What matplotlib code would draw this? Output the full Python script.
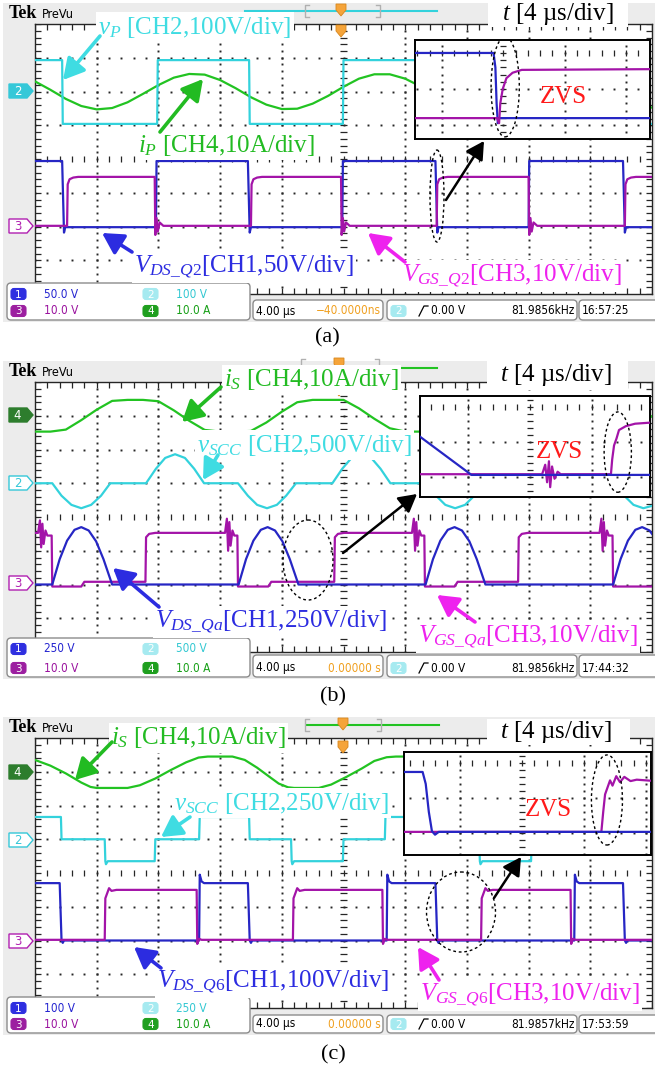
import numpy as np
import matplotlib
matplotlib.use("Agg")
import matplotlib.pyplot as plt
from matplotlib.patches import Polygon, FancyBboxPatch, Rectangle, Ellipse, FancyArrowPatch
from matplotlib.collections import LineCollection

plt.rcParams["mathtext.fontset"] = "custom"
plt.rcParams["mathtext.rm"] = "Liberation Serif"
plt.rcParams["mathtext.it"] = "Liberation Serif:italic"
plt.rcParams["mathtext.bf"] = "Liberation Serif:bold"
plt.rcParams["mathtext.sf"] = "Liberation Serif"

# ===================== DATA (time in div, 4 us/div ; level in div) =====================
T_SAMPLES = [0.0, 0.25, 0.5, 0.75, 1.0, 1.25, 1.5, 1.75, 2.0, 2.25, 2.5, 2.75, 3.0, 3.25,
             3.5, 3.75, 4.0, 4.25, 4.5, 4.75, 5.0, 5.25, 5.5, 5.75, 6.0, 6.25, 6.5, 6.75,
             7.0, 7.25, 7.5, 7.75, 8.0, 8.25, 8.5, 8.75, 9.0, 9.25, 9.5, 9.75, 10.0]

# ---- panel (a) ----
a_vp = [(0, 6.93), (0.44, 6.93), (0.45, 5.04), (1.98, 5.04), (1.99, 6.93), (3.47, 6.93),
        (3.48, 5.04), (4.99, 5.04), (5.00, 6.93), (6.51, 6.93), (6.52, 5.04), (8.03, 5.04),
        (8.04, 6.93), (9.55, 6.93), (9.56, 5.04), (10, 5.04)]
a_ip = [6.30, 6.05, 5.78, 5.57, 5.47, 5.51, 5.68, 5.93, 6.19, 6.41, 6.52, 6.50, 6.34, 6.10,
        5.83, 5.61, 5.48, 5.49, 5.64, 5.87, 6.14, 6.38, 6.51, 6.51, 6.38, 6.15, 5.88, 5.64,
        5.50, 5.48, 5.60, 5.82, 6.09, 6.34, 6.49, 6.52, 6.42, 6.20, 5.94, 5.69, 5.52]
a_vds = [(0, 3.94), (0.44, 3.94), (0.47, 1.82), (0.49, 1.98), (1.96, 1.98), (1.97, 3.94),
         (3.45, 3.94), (3.48, 1.82), (3.50, 1.98), (4.98, 1.98), (4.99, 3.94), (6.49, 3.94),
         (6.52, 1.82), (6.54, 1.98), (8.00, 1.98), (8.01, 3.94), (9.53, 3.94), (9.56, 1.82),
         (9.58, 1.98), (10, 1.98)]
a_vgs = [(0, 2.02), (0.52, 2.02), (0.53, 3.25), (0.56, 3.40), (0.62, 3.45), (0.70, 3.47),
         (1.94, 3.47), (1.95, 1.75), (1.97, 2.25), (1.99, 1.85), (2.02, 2.12), (2.08, 2.02),
         (3.50, 2.02), (3.51, 3.25), (3.54, 3.40), (3.60, 3.45), (3.68, 3.47), (4.96, 3.47),
         (4.97, 1.75), (4.99, 2.25), (5.01, 1.85), (5.04, 2.12), (5.10, 2.02), (6.51, 2.02),
         (6.52, 3.25), (6.55, 3.40), (6.61, 3.45), (6.69, 3.47), (8.00, 3.47), (8.01, 1.75),
         (8.03, 2.25), (8.05, 1.85), (8.08, 2.12), (8.14, 2.02), (9.56, 2.02), (9.57, 3.25),
         (9.60, 3.40), (9.66, 3.45), (9.74, 3.47), (10, 3.47)]
a_zoom_vds = [(0.56, 3.0), (1.84, 3.0), (1.87, 2.6), (1.89, 1.6), (1.91, 1.05), (1.93, 1.19), (4.39, 1.19)]
a_zoom_vgs = [(0.56, 1.19), (1.90, 1.19), (1.93, 1.05), (1.95, 1.6), (1.99, 2.0), (2.05, 2.3),
              (2.15, 2.45), (2.30, 2.53), (4.39, 2.55)]
a_scales = ["50.0 V", "100 V", "10.0 V", "10.0 A"]
a_timebase = ["4.00 \u00b5s", "\u221240.0000ns"]
a_trigger = ["0.00 V", "81.9856kHz"]
a_clock = "16:57:25"

# ---- panel (b) ----
b_is = [6.53, 6.53, 6.59, 6.87, 7.18, 7.44, 7.47, 7.47, 7.43, 7.16, 6.85, 6.58, 6.53, 6.53,
        6.55, 6.80, 7.12, 7.40, 7.47, 7.47, 7.47, 7.22, 6.91, 6.63, 6.53, 6.53, 6.53, 6.75,
        7.05, 7.35, 7.47, 7.47, 7.47, 7.28, 6.98, 6.68, 6.53, 6.53, 6.53, 6.69, 6.99]
b_vscc = [(0, 5.0), (0.28, 5.0), (0.43, 4.63), (0.59, 4.36), (0.75, 4.26), (0.91, 4.36), (1.07, 4.63),
          (1.22, 5.0), (1.80, 5.0), (1.96, 5.43), (2.11, 5.75), (2.27, 5.86), (2.43, 5.75), (2.58, 5.43),
          (2.74, 5.0), (3.29, 5.0), (3.45, 4.63), (3.60, 4.36), (3.76, 4.26), (3.92, 4.36), (4.07, 4.63),
          (4.23, 5.0), (4.82, 5.0), (4.98, 5.43), (5.13, 5.75), (5.29, 5.86), (5.45, 5.75), (5.60, 5.43),
          (5.76, 5.0), (6.34, 5.0), (6.50, 4.63), (6.65, 4.36), (6.81, 4.26), (6.97, 4.36), (7.12, 4.63),
          (7.28, 5.0), (7.87, 5.0), (8.03, 5.43), (8.18, 5.75), (8.34, 5.86), (8.50, 5.75), (8.65, 5.43),
          (8.81, 5.0), (9.39, 5.0), (9.55, 4.63), (9.70, 4.36), (9.86, 4.26), (10, 4.33)]
b_vds = [(0, 2.0), (0.28, 2.0), (0.40, 2.75), (0.52, 3.30), (0.64, 3.62), (0.75, 3.70), (0.87, 3.60),
         (0.99, 3.28), (1.11, 2.75), (1.25, 2.0), (3.30, 2.0), (3.42, 2.75), (3.54, 3.30), (3.66, 3.62),
         (3.77, 3.70), (3.89, 3.60), (4.01, 3.28), (4.13, 2.75), (4.27, 2.0), (6.33, 2.0), (6.45, 2.75),
         (6.57, 3.30), (6.69, 3.62), (6.80, 3.70), (6.92, 3.60), (7.04, 3.28), (7.16, 2.75), (7.30, 2.0),
         (9.37, 2.0), (9.49, 2.75), (9.61, 3.30), (9.73, 3.62), (9.84, 3.70), (9.96, 3.60), (10, 3.50)]
b_vgs = [(0, 3.53), (0.05, 3.53), (0.08, 3.9), (0.10, 3.1), (0.12, 3.8), (0.14, 3.2), (0.17, 3.6),
         (0.20, 3.45), (0.27, 3.45), (0.28, 1.94), (0.75, 1.94), (0.80, 2.08), (1.79, 2.08), (1.80, 3.40),
         (1.85, 3.50), (1.95, 3.53), (3.08, 3.53), (3.11, 3.95), (3.13, 3.0), (3.15, 3.85), (3.17, 3.15),
         (3.20, 3.6), (3.23, 3.45), (3.28, 3.45), (3.29, 1.94), (3.78, 1.94), (3.83, 2.08), (4.85, 2.08),
         (4.86, 3.40), (4.91, 3.50), (5.01, 3.53), (6.11, 3.53), (6.14, 3.95), (6.16, 3.0), (6.18, 3.85),
         (6.20, 3.15), (6.23, 3.6), (6.26, 3.45), (6.31, 3.45), (6.32, 1.94), (6.80, 1.94), (6.85, 2.08),
         (7.83, 2.08), (7.84, 3.40), (7.89, 3.50), (7.99, 3.53), (9.15, 3.53), (9.18, 3.95), (9.20, 3.0),
         (9.22, 3.85), (9.24, 3.15), (9.27, 3.6), (9.30, 3.45), (9.36, 3.45), (9.37, 1.94), (10, 1.94)]
b_zoom_vds = [(0.23, 2.15), (0.26, 2.11), (1.06, 1.06), (3.94, 1.06)]
b_zoom_vgs = [(0.23, 1.08), (2.20, 1.08), (2.25, 1.35), (2.28, 0.85), (2.31, 1.45), (2.33, 0.71),
              (2.36, 1.3), (2.40, 0.95), (2.45, 1.15), (2.50, 1.08), (3.31, 1.08), (3.33, 1.5),
              (3.36, 1.9), (3.40, 2.1), (3.44, 2.34), (3.55, 2.45), (3.70, 2.52), (3.94, 2.55)]
b_scales = ["250 V", "500 V", "10.0 V", "10.0 A"]
b_timebase = ["4.00 \u00b5s", "0.00000 s"]
b_trigger = ["0.00 V", "81.9856kHz"]
b_clock = "17:44:32"

# ---- panel (c) ----
c_is = [(0, 7.35), (0.25, 7.18), (0.5, 6.95), (0.75, 6.68), (0.9, 6.55), (1.0, 6.52), (1.5, 6.52),
        (1.7, 6.60), (1.95, 6.80), (2.2, 7.05), (2.45, 7.28), (2.65, 7.42), (2.8, 7.45), (3.2, 7.45),
        (3.4, 7.35), (3.6, 7.12), (3.8, 6.85), (3.95, 6.65), (4.1, 6.54), (4.2, 6.52), (4.6, 6.52),
        (4.8, 6.62), (5.05, 6.85), (5.3, 7.10), (5.5, 7.32), (5.7, 7.43), (5.85, 7.45), (6.25, 7.45),
        (6.45, 7.35), (6.65, 7.12), (6.85, 6.85), (7.0, 6.65), (7.15, 6.54), (7.25, 6.52), (7.65, 6.52),
        (7.85, 6.62), (8.1, 6.85), (8.35, 7.10), (8.55, 7.32), (8.75, 7.43), (8.9, 7.45), (9.3, 7.45),
        (9.5, 7.35), (9.7, 7.12), (9.9, 6.85), (10, 6.75)]
c_vscc = [(0, 5.66), (0.42, 5.66), (0.43, 5.0), (1.13, 5.0), (1.14, 4.35), (1.15, 4.26), (1.18, 4.35),
          (1.94, 4.35), (1.95, 5.0), (2.66, 5.0), (2.67, 5.66), (2.68, 5.74), (2.71, 5.66), (3.47, 5.66),
          (3.48, 5.0), (4.15, 5.0), (4.16, 4.35), (4.17, 4.26), (4.20, 4.35), (4.99, 4.35), (5.00, 5.0),
          (5.67, 5.0), (5.68, 5.66), (5.69, 5.74), (5.72, 5.66), (6.52, 5.66), (6.53, 5.0), (7.20, 5.0),
          (7.21, 4.35), (7.22, 4.26), (7.25, 4.35), (8.04, 4.35), (8.05, 5.0), (8.72, 5.0), (8.73, 5.66),
          (8.74, 5.74), (8.77, 5.66), (9.57, 5.66), (9.58, 5.0), (10, 5.0)]
c_vds = [(0, 3.70), (0.40, 3.70), (0.43, 2.0), (0.45, 1.93), (0.47, 2.0), (2.66, 2.0), (2.67, 3.95),
         (2.70, 3.75), (2.74, 3.70), (3.45, 3.70), (3.48, 2.0), (3.50, 1.93), (3.52, 2.0), (5.70, 2.0),
         (5.71, 3.95), (5.74, 3.75), (5.78, 3.70), (6.49, 3.70), (6.52, 2.0), (6.54, 1.93), (6.56, 2.0),
         (8.74, 2.0), (8.75, 3.95), (8.78, 3.75), (8.82, 3.70), (9.53, 3.70), (9.56, 2.0), (9.58, 1.93),
         (9.60, 2.0), (10, 2.0)]
c_vgs = [(0, 2.02), (1.13, 2.02), (1.14, 3.25), (1.17, 3.40), (1.20, 3.55), (1.24, 3.47), (1.32, 3.50),
         (2.62, 3.50), (2.63, 1.90), (2.66, 2.05), (2.70, 2.02), (4.18, 2.02), (4.19, 3.25), (4.22, 3.40),
         (4.25, 3.55), (4.29, 3.47), (4.37, 3.50), (5.63, 3.50), (5.64, 1.90), (5.67, 2.05), (5.71, 2.02),
         (7.23, 2.02), (7.24, 3.25), (7.27, 3.40), (7.30, 3.55), (7.34, 3.47), (7.42, 3.50), (8.68, 3.50),
         (8.69, 1.90), (8.72, 2.05), (8.76, 2.02), (10, 2.02)]
c_zoom_vds = [(0.10, 2.74), (0.40, 2.74), (0.45, 2.4), (0.50, 1.6), (0.55, 1.05), (0.60, 0.95),
              (0.66, 1.03), (4.08, 1.03)]
c_zoom_vgs = [(0.10, 1.03), (3.28, 1.03), (3.31, 1.6), (3.34, 2.1), (3.38, 2.3), (3.42, 2.5),
              (3.46, 2.35), (3.52, 2.62), (3.58, 2.45), (3.65, 2.6), (3.75, 2.48), (3.85, 2.52), (4.08, 2.49)]
c_scales = ["100 V", "250 V", "10.0 V", "10.0 A"]
c_timebase = ["4.00 \u00b5s", "0.00000 s"]
c_trigger = ["0.00 V", "81.9857kHz"]
c_clock = "17:53:59"

# ===================== STYLE =====================
TR_CYAN, TR_GREEN, TR_BLUE, TR_MAG = "#33d2dc", "#22c322", "#2626c4", "#a314a8"
LB_CYAN, LB_GREEN, LB_BLUE, LB_MAG = "#3fdce2", "#22bb22", "#2c2ce0", "#ee22ee"
GRID_C = "#262626"
FRAME = "#ececec"
SERIF = "Liberation Serif"

W, H = 655, 1068
fig = plt.figure(figsize=(W / 100, H / 100), dpi=100)
fig.patch.set_facecolor("white")


def px_axes(x0, y0, x1, y1, z):
    ax = fig.add_axes([x0 / W, 1 - y1 / H, (x1 - x0) / W, (y1 - y0) / H])
    ax.set_zorder(z)
    return ax


bg = px_axes(0, 0, W, H, 0)
bg.set_xlim(0, W); bg.set_ylim(H, 0); bg.axis("off")
ov = px_axes(0, 0, W, H, 10)
ov.set_xlim(0, W); ov.set_ylim(H, 0); ov.axis("off")


def main_grid(ax):
    fx = [i * 0.2 for i in range(51)]
    fy = [j * 0.2 for j in range(41)]
    dx, dy = [], []
    for gx in range(1, 10):
        if gx == 5:
            continue
        for y in fy:
            dx.append(gx); dy.append(y)
    for gy in range(1, 8):
        if gy == 4:
            continue
        for x in fx:
            dx.append(x); dy.append(gy)
    ax.plot(dx, dy, ls="none", marker="s", ms=1.4, mew=0, color=GRID_C, zorder=1)
    segs = []
    for y in fy:
        segs += [[(4.95, y), (5.05, y)], [(0, y), (0.09, y)], [(10, y), (9.91, y)]]
    for x in fx:
        segs += [[(x, 3.91), (x, 4.09)], [(x, 8), (x, 7.82)], [(x, 0), (x, 0.18)]]
    ax.add_collection(LineCollection(segs, colors=GRID_C, linewidths=0.9, zorder=1))


def inset_grid(ax, xr, yr):
    fx = [k * 0.2 for k in range(int(xr[0] / 0.2) + 1, int(xr[1] / 0.2) + 1)]
    fy = [k * 0.2 for k in range(int(yr[0] / 0.2) + 1, int(yr[1] / 0.2) + 1)]
    dx, dy = [], []
    for gx in range(1, 5):
        if xr[0] < gx < xr[1] and gx != 2:
            for y in fy:
                dx.append(gx); dy.append(y)
    for gy in (1, 2):
        for x in fx:
            dx.append(x); dy.append(gy)
    ax.plot(dx, dy, ls="none", marker="s", ms=1.4, mew=0, color=GRID_C, zorder=1)
    segs = [[(x, 2.92), (x, 3.08)] for x in fx] + [[(1.95, y), (2.05, y)] for y in fy]
    ax.add_collection(LineCollection(segs, colors=GRID_C, linewidths=0.9, zorder=1))


def trace(ax, pts, color, lw=1.6, z=3):
    ax.plot([p[0] for p in pts], [p[1] for p in pts], color=color, lw=lw, zorder=z,
            solid_joinstyle="round")


def chmark(y, num, color, filled):
    bg.add_patch(Polygon([(9, y - 7), (27, y - 7), (33, y), (27, y + 7), (9, y + 7)], closed=True,
                         fc=color if filled else "white", ec=color, lw=1.0, zorder=3))
    bg.text(17.5, y + 0.5, num, color="white" if filled else color, fontsize=8.5, ha="center",
            va="center", family="DejaVu Sans", zorder=4)


def label(x, y, s, color):
    ov.text(x, y, s, color=color, fontsize=18, family=SERIF, ha="left", va="center", zorder=8,
            bbox=dict(boxstyle="square,pad=0.1", fc="white", ec="none"))


def arrow(tail, head, color, lw=2.6, ms=14):
    ov.add_patch(FancyArrowPatch(tail, head, arrowstyle="-|>,head_length=0.9,head_width=0.5",
                                 mutation_scale=ms, lw=lw, color=color, shrinkA=0, shrinkB=0, zorder=9))


def orange_mark(x, y):
    ov.add_patch(Polygon([(x - 5, y), (x + 5, y), (x + 5, y + 6), (x, y + 12), (x - 5, y + 6)],
                         closed=True, fc="#f5a43a", ec="#d8861c", lw=0.6, zorder=7))


def brackets(x0, x1, y0, y1):
    ov.plot([x0 + 4, x0, x0, x0 + 4], [y0, y0, y1, y1], color="#b0b0b0", lw=1, zorder=6)
    ov.plot([x1 - 4, x1, x1, x1 - 4], [y0, y0, y1, y1], color="#b0b0b0", lw=1, zorder=6)


def rtext(x, y, s, color, ha="left"):
    ov.text(x, y, s, color=color, fontsize=8.5, ha=ha, va="center", family="DejaVu Sans",
            fontstretch="condensed", zorder=9)


def badge(x, y, num, fc):
    ov.add_patch(FancyBboxPatch((x, y - 5.5), 15, 11, boxstyle="round,pad=0,rounding_size=3",
                                fc=fc, ec=fc, lw=0.8, zorder=8))
    ov.text(x + 7.5, y + 0.5, num, color="white", fontsize=7.5, ha="center", va="center",
            family="DejaVu Sans", zorder=9)


def readout(top1, top2, bot, scales, tb, trig, clock):
    bs = dict(boxstyle="round,pad=0,rounding_size=4", fc="white", ec="#8c8c8c", lw=1, zorder=7)
    ov.add_patch(FancyBboxPatch((7, top1), 243, bot - top1, **bs))
    for x0, x1 in [(253, 383), (387, 577), (579, 664)]:
        ov.add_patch(FancyBboxPatch((x0, top2), x1 - x0, bot - top2, **bs))
    r1 = top1 + 11
    r2 = bot - 9
    badge(11, r1, "1", "#2f2fe0"); rtext(44, r1, scales[0], "#2424d0")
    badge(143, r1, "2", "#a6eaf0"); rtext(176, r1, scales[1], "#33c8d2")
    badge(11, r2, "3", "#9c1fa0"); rtext(44, r2, scales[2], "#9a129e")
    badge(143, r2, "4", "#1f9f1f"); rtext(176, r2, scales[3], "#18a018")
    rtext(256, r2, tb[0], "black")
    rtext(381, r2, tb[1], "#f0a020", ha="right")
    badge(391, r2, "2", "#a6eaf0")
    ov.plot([419, 424, 428], [r2 + 5, r2 - 5, r2 - 5], color="black", lw=0.9, zorder=9)
    rtext(431, r2, trig[0], "black")
    rtext(575, r2, trig[1], "black", ha="right")
    rtext(582, r2, clock, "black")


def panel(T, sample_traces, traces, zoom_rect, zoom_lim, zoom_traces, zoom_ell, zvs_xy,
          chans, labels, arrows, t_label, t_box, ell, black_arrow, rd, tag, tag_y, tops):
    B = T + 270
    # screenshot frame
    bg.add_patch(Rectangle((3, T - 21), W - 3, rd[2] - T + 23, fc=FRAME, ec="none", zorder=1))
    bg.text(9, T - 11, "Tek", fontsize=13, fontweight="bold", family=SERIF, va="center", zorder=4)
    bg.text(42, T - 10, "PreVu", fontsize=9, family="DejaVu Sans", fontstretch="condensed",
            va="center", zorder=4)
    for ch in chans:
        chmark(*ch)
    # graticule
    ax = px_axes(35, T, 652, B, 1)
    ax.set_xlim(0, 10); ax.set_ylim(0, 8)
    ax.set_xticks([]); ax.set_yticks([])
    for sp in ax.spines.values():
        sp.set_color(GRID_C); sp.set_linewidth(1.0)
    main_grid(ax)
    for vals, color in sample_traces:
        ax.plot(T_SAMPLES, vals, color=color, lw=1.6, zorder=3)
    for pts, color in traces:
        trace(ax, pts, color)
    # zoomed inset
    zx0, zy0, zx1, zy1 = zoom_rect
    zi = px_axes(zx0, zy0, zx1, zy1, 2)
    zi.set_xlim(*zoom_lim[0]); zi.set_ylim(*zoom_lim[1])
    zi.set_xticks([]); zi.set_yticks([])
    zi.set_facecolor("white")
    for sp in zi.spines.values():
        sp.set_color("black"); sp.set_linewidth(1.4)
    inset_grid(zi, zoom_lim[0], zoom_lim[1])
    for pts, color in zoom_traces:
        trace(zi, pts, color, lw=1.6)
    zi.add_patch(Ellipse(zoom_ell[:2], zoom_ell[2], zoom_ell[3], fill=False, ec="black", lw=1.0,
                         ls=(0, (2, 2)), zorder=5))
    zi.text(zvs_xy[0], zvs_xy[1], "ZVS", color="#ff1a1a", fontsize=18, family=SERIF,
            ha="center", va="center", zorder=6)
    # top indicators
    kind, x0, x1, yl = tops[0]
    ov.plot([x0, x1], [yl, yl], color=TR_CYAN if kind == "c" else TR_GREEN, lw=1.5, zorder=6)
    brackets(*tops[1])
    for om in tops[2]:
        orange_mark(*om)
    # annotations
    ov.add_patch(Rectangle((t_box[0], t_box[1]), t_box[2] - t_box[0], t_box[3] - t_box[1],
                           fc="white", ec="none", zorder=7))
    ov.text(t_label[0], t_label[1], r"$t$ [4 µs/div]", fontsize=18, family=SERIF, ha="left",
            va="center", zorder=8)
    for lb in labels:
        label(*lb)
    for tail, head, color in arrows:
        arrow(tail, head, color)
    ov.add_patch(Ellipse(ell[:2], ell[2], ell[3], fill=False, ec="black", lw=1.0, ls=(0, (2, 2)),
                         zorder=8))
    arrow(black_arrow[0], black_arrow[1], "black", lw=1.8, ms=12)
    readout(*rd)
    bg.text(tag[0], tag_y, tag[1], fontsize=16, family=SERIF, ha="center", va="center")


# ---------------- panel (a) ----------------
panel(T=24,
      sample_traces=[(a_ip, TR_GREEN)],
      traces=[(a_vp, TR_CYAN), (a_vds, TR_BLUE), (a_vgs, TR_MAG)],
      zoom_rect=(415, 40, 650, 139), zoom_lim=((0.56, 4.39), (0.61, 3.36)),
      zoom_traces=[(a_zoom_vds, TR_BLUE), (a_zoom_vgs, TR_MAG)],
      zoom_ell=(2.03, 2.06, 0.46, 2.78), zvs_xy=(2.97, 1.78),
      chans=[(91, "2", "#35c8d8", True), (226, "3", "#b020b0", False)],
      labels=[(98, 27, r"$v_P$ [CH2,100V/div]", LB_CYAN),
              (138, 145, r"$i_P$ [CH4,10A/div]", LB_GREEN),
              (134, 267, r"$V_{DS\_Q2}$[CH1,50V/div]", LB_BLUE),
              (402, 276, r"$V_{GS\_Q2}$[CH3,10V/div]", LB_MAG)],
      arrows=[((100, 36), (63, 80), LB_CYAN), ((160, 132), (203, 79), LB_GREEN),
              ((132, 252), (102, 233), LB_BLUE), ((405, 262), (368, 233), LB_MAG)],
      t_label=(502, 14), t_box=(488, 3, 628, 27),
      ell=(437, 196, 14, 92), black_arrow=((446, 200), (484, 141)),
      rd=(283, 300, 320, a_scales, a_timebase, a_trigger, a_clock),
      tag=(327, "(a)"), tag_y=338,
      tops=[("c", 245, 437, 11), (305, 380, 5, 17), [(341, 4), (341, 25)]])

# ---------------- panel (b) ----------------
panel(T=382,
      sample_traces=[(b_is, TR_GREEN)],
      traces=[(b_vscc, TR_CYAN), (b_vgs, TR_MAG), (b_vds, TR_BLUE)],
      zoom_rect=(420, 396, 650, 497), zoom_lim=((0.23, 3.94), (0.43, 3.31)),
      zoom_traces=[(b_zoom_vgs, TR_MAG), (b_zoom_vds, TR_BLUE)],
      zoom_ell=(3.42, 1.71, 0.44, 2.29), zvs_xy=(2.48, 1.71),
      chans=[(415, "4", "#2d7d2d", True), (483, "2", "#35c8d8", False), (583, "3", "#b020b0", False)],
      labels=[(224, 380, r"$i_S$ [CH4,10A/div]", LB_GREEN),
              (197, 445, r"$v_{SCC}$ [CH2,500V/div]", LB_CYAN),
              (155, 622, r"$V_{DS\_Qa}$[CH1,250V/div]", LB_BLUE),
              (418, 637, r"$V_{GS\_Qa}$[CH3,10V/div]", LB_MAG)],
      arrows=[((221, 387), (182, 422), LB_GREEN), ((218, 455), (203, 480), LB_CYAN),
              ((159, 607), (113, 568), LB_BLUE), ((475, 622), (437, 595), LB_MAG)],
      t_label=(500, 375), t_box=(487, 360, 628, 390),
      ell=(308, 560, 50, 80), black_arrow=((343, 553), (417, 494)),
      rd=(638, 655, 677, b_scales, b_timebase, b_trigger, b_clock),
      tag=(333, "(b)"), tag_y=697,
      tops=[("g", 402, 437, 368), (301, 379, 359, 371), [(339, 358), (339, 384)]])

# ---------------- panel (c) ----------------
panel(T=738,
      sample_traces=[],
      traces=[(c_is, TR_GREEN), (c_vscc, TR_CYAN), (c_vds, TR_BLUE), (c_vgs, TR_MAG)],
      zoom_rect=(404, 752, 651, 855), zoom_lim=((0.10, 4.08), (0.37, 3.31)),
      zoom_traces=[(c_zoom_vgs, TR_MAG), (c_zoom_vds, TR_BLUE)],
      zoom_ell=(3.37, 1.94, 0.5, 2.57), zvs_xy=(2.42, 1.66),
      chans=[(772, "4", "#2d7d2d", True), (840, "2", "#35c8d8", False), (941, "3", "#b020b0", False)],
      labels=[(111, 738, r"$i_S$ [CH4,10A/div]", LB_GREEN),
              (174, 803, r"$v_{SCC}$ [CH2,250V/div]", LB_CYAN),
              (157, 982, r"$V_{DS\_Q6}$[CH1,100V/div]", LB_BLUE),
              (420, 995, r"$V_{GS\_Q6}$[CH3,10V/div]", LB_MAG)],
      arrows=[((112, 742), (75, 780), LB_GREEN), ((190, 817), (161, 837), LB_CYAN),
              ((161, 968), (134, 947), LB_BLUE), ((439, 980), (418, 947), LB_MAG)],
      t_label=(500, 732), t_box=(487, 719, 630, 745),
      ell=(461, 912, 69, 80), black_arrow=((494, 898), (521, 857)),
      rd=(997, 1015, 1033, c_scales, c_timebase, c_trigger, c_clock),
      tag=(333, "(c)"), tag_y=1055,
      tops=[("g", 307, 439, 725), (305, 381, 719, 731), [(343, 718), (343, 741)]])

fig.savefig("out.png", dpi=100)
